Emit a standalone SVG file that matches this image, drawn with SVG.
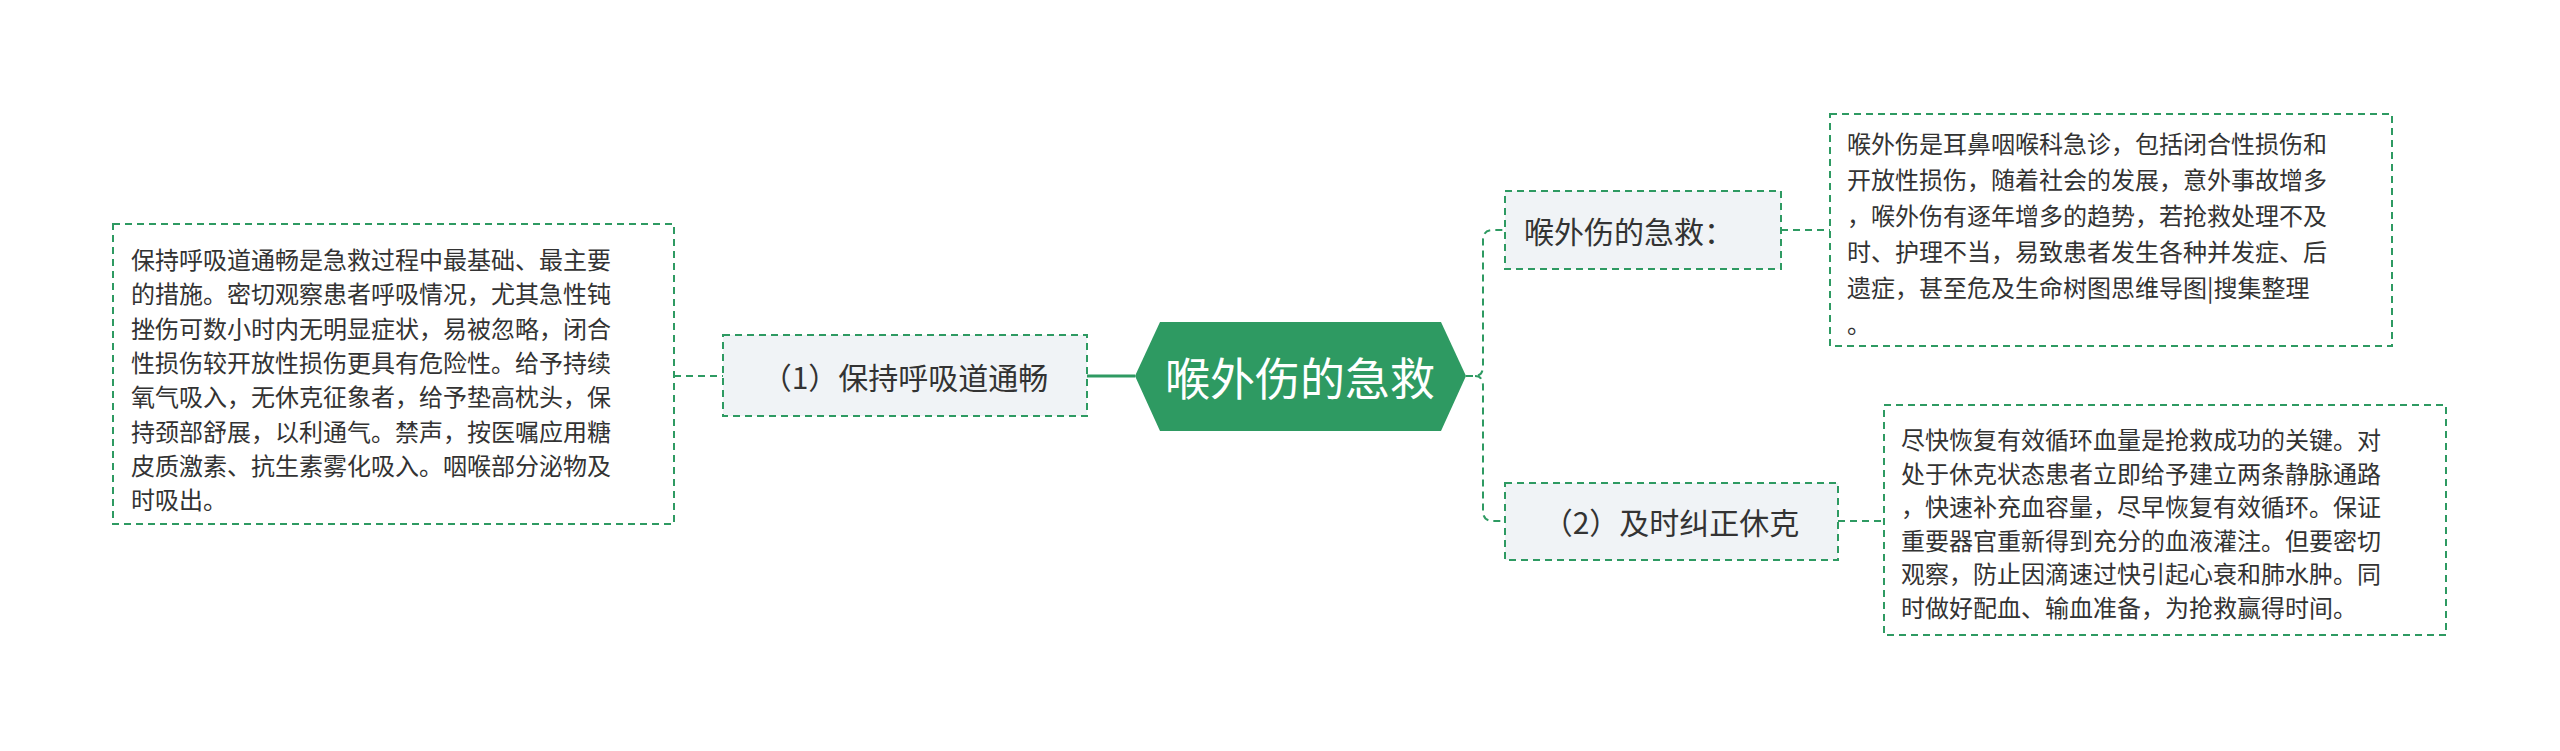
<svg xmlns="http://www.w3.org/2000/svg" width="2560" height="751" viewBox="0 0 2560 751">
<style>
.t{font-family:"Noto Sans CJK SC","Noto Sans",sans-serif;fill:#333;dominant-baseline:central}
.b{font-size:24px}
.n{font-size:30px}
.box{fill:#fff;stroke:#2e9a62;stroke-width:2;stroke-dasharray:7 5}
.nd{fill:#f0f3f6;stroke:#2e9a62;stroke-width:2;stroke-dasharray:7 5}
.c{fill:none;stroke:#2e9a62;stroke-width:3}
.d{fill:none;stroke:#2e9a62;stroke-width:2;stroke-dasharray:7 5}
</style>
<rect width="2560" height="751" fill="#fff"/>
<g id="connectors">
<line class="c" x1="1087" y1="376" x2="1135" y2="376"/>
<line class="d" x1="674" y1="376" x2="723" y2="376"/>
<path class="d" d="M1466 376 H1475 Q1483 376 1483 366 V240 Q1483 230 1493 230 H1505"/>
<path class="d" d="M1475 376 Q1483 376 1483 386 V511 Q1483 521 1493 521 H1505"/>
<line class="d" x1="1781" y1="230" x2="1830" y2="230"/>
<line class="d" x1="1838" y1="521" x2="1884" y2="521"/>
</g>
<g id="center">
<polygon points="1135,376 1160,322 1441,322 1466,376 1441,431 1160,431" fill="#2e9a62"/>
<text class="t" x="1300" y="376" text-anchor="middle" font-size="45" style="fill:#fff">喉外伤的急救</text>
</g>
<g id="node-left">
<rect class="nd" x="723" y="335" width="364" height="81"/>
<text class="t n" x="905" y="376" text-anchor="middle">（1）保持呼吸道通畅</text>
</g>
<g id="text-left">
<rect class="box" x="113" y="224" width="561" height="300"/>
<text class="t b" x="131" y="258">保持呼吸道通畅是急救过程中最基础、最主要</text>
<text class="t b" x="131" y="292">的措施。密切观察患者呼吸情况，尤其急性钝</text>
<text class="t b" x="131" y="327">挫伤可数小时内无明显症状，易被忽略，闭合</text>
<text class="t b" x="131" y="361">性损伤较开放性损伤更具有危险性。给予持续</text>
<text class="t b" x="131" y="395">氧气吸入，无休克征象者，给予垫高枕头，保</text>
<text class="t b" x="131" y="430">持颈部舒展，以利通气。禁声，按医嘱应用糖</text>
<text class="t b" x="131" y="464">皮质激素、抗生素雾化吸入。咽喉部分泌物及</text>
<text class="t b" x="131" y="498">时吸出。</text>
</g>
<g id="node-r1">
<rect class="nd" x="1505" y="191" width="276" height="78"/>
<text class="t n" x="1524" y="230">喉外伤的急救：</text>
</g>
<g id="text-r1">
<rect class="box" x="1830" y="114" width="562" height="232"/>
<text class="t b" x="1847" y="142">喉外伤是耳鼻咽喉科急诊，包括闭合性损伤和</text>
<text class="t b" x="1847" y="178">开放性损伤，随着社会的发展，意外事故增多</text>
<text class="t b" x="1847" y="214">，喉外伤有逐年增多的趋势，若抢救处理不及</text>
<text class="t b" x="1847" y="250">时、护理不当，易致患者发生各种并发症、后</text>
<text class="t b" x="1847" y="286">遗症，甚至危及生命树图思维导图|搜集整理</text>
<text class="t b" x="1847" y="322">。</text>
</g>
<g id="node-r2">
<rect class="nd" x="1505" y="483" width="333" height="77"/>
<text class="t n" x="1671" y="521" text-anchor="middle">（2）及时纠正休克</text>
</g>
<g id="text-r2">
<rect class="box" x="1884" y="405" width="562" height="230"/>
<text class="t b" x="1901" y="438">尽快恢复有效循环血量是抢救成功的关键。对</text>
<text class="t b" x="1901" y="472">处于休克状态患者立即给予建立两条静脉通路</text>
<text class="t b" x="1901" y="505">，快速补充血容量，尽早恢复有效循环。保证</text>
<text class="t b" x="1901" y="539">重要器官重新得到充分的血液灌注。但要密切</text>
<text class="t b" x="1901" y="572">观察，防止因滴速过快引起心衰和肺水肿。同</text>
<text class="t b" x="1901" y="606">时做好配血、输血准备，为抢救赢得时间。</text>
</g>
</svg>
